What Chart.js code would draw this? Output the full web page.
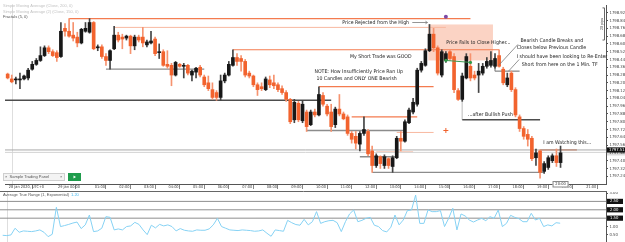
<!DOCTYPE html>
<html>
<head>
<meta charset="utf-8">
<title>Gold 29 Jan</title>
<script src="https://cdn.jsdelivr.net/npm/chart.js@4.4.1/dist/chart.umd.min.js"></script>
<style>
  html, body { margin: 0; padding: 0; background: #fff; }
  body { width: 625px; height: 242px; position: relative; overflow: hidden; }
  #main { position: absolute; left: 0; top: 0; }
  #atr { position: absolute; left: 0; top: 192px; }
</style>
</head>
<body>
<canvas id="main" width="625" height="192"></canvas>
<canvas id="atr" width="625" height="50"></canvas>
<script>
// candles, one per bar
const opens = [1798.29,1798.24,1798.23,1798.23,1798.24,1798.25,1798.34,1798.39,1798.43,1798.48,
  1798.56,1798.52,1798.51,1798.47,1798.76,1798.73,1798.69,1798.67,1798.61,1798.73,
  1798.72,1798.82,1798.56,1798.57,1798.47,1798.43,1798.55,1798.69,1798.67,1798.66,
  1798.68,1798.58,1798.67,1798.67,1798.59,1798.61,1798.65,1798.51,1798.52,1798.39,
  1798.38,1798.28,1798.39,1798.37,1798.38,1798.28,1798.31,1798.36,1798.26,1798.20,
  1798.13,1798.10,1798.05,1798.22,1798.28,1798.38,1798.46,1798.45,1798.42,1798.30,
  1798.27,1798.18,1798.16,1798.13,1798.23,1798.20,1798.18,1798.14,1798.10,1798.03,
  1797.82,1797.99,1797.81,1797.90,1797.77,1797.90,1797.87,1798.07,1797.96,1797.90,
  1797.77,1797.93,1797.88,1797.85,1797.68,1797.65,1797.57,1797.68,1797.70,1797.50,
  1797.35,1797.44,1797.35,1797.42,1797.34,1797.43,1797.63,1797.60,1797.79,1797.90,
  1797.98,1798.33,1798.38,1798.53,1798.70,1798.56,1798.28,1798.43,1798.52,1798.47,
  1798.12,1798.03,1798.25,1798.37,1798.28,1798.28,1798.30,1798.37,1798.38,1798.37,
  1798.48,1798.34,1798.18,1798.30,1798.13,1797.85,1797.73,1797.67,1797.63,1797.43,
  1797.50,1797.29,1797.33,1797.40,1797.45,1797.38];
const highs = [1798.30,1798.28,1798.26,1798.30,1798.28,1798.35,1798.42,1798.45,1798.57,1798.58,
  1798.58,1798.54,1798.53,1798.82,1798.81,1798.86,1798.82,1798.72,1798.76,1798.82,
  1798.86,1798.83,1798.59,1798.59,1798.50,1798.54,1798.78,1798.72,1798.70,1798.69,
  1798.69,1798.69,1798.69,1798.77,1798.64,1798.73,1798.67,1798.60,1798.54,1798.53,
  1798.40,1798.42,1798.40,1798.40,1798.39,1798.33,1798.36,1798.38,1798.28,1798.27,
  1798.20,1798.12,1798.28,1798.30,1798.42,1798.54,1798.50,1798.48,1798.44,1798.32,
  1798.28,1798.20,1798.20,1798.26,1798.27,1798.28,1798.20,1798.17,1798.12,1798.04,
  1798.03,1798.01,1798.02,1797.92,1797.92,1797.93,1798.16,1798.10,1797.98,1797.98,
  1797.95,1798.08,1797.90,1797.87,1797.70,1797.70,1797.70,1797.85,1797.72,1797.55,
  1797.47,1797.45,1797.46,1797.43,1797.45,1797.65,1797.70,1797.82,1797.94,1798.04,
  1798.35,1798.42,1798.55,1798.80,1798.76,1798.58,1798.54,1798.52,1798.54,1798.50,
  1798.14,1798.30,1798.50,1798.50,1798.32,1798.40,1798.40,1798.46,1798.52,1798.50,
  1798.54,1798.36,1798.30,1798.32,1798.15,1797.87,1797.75,1797.72,1797.65,1797.52,
  1797.51,1797.39,1797.45,1797.47,1797.52,1797.55];
const lows = [1798.24,1798.20,1798.19,1798.14,1798.23,1798.23,1798.33,1798.38,1798.42,1798.47,
  1798.50,1798.47,1798.42,1798.46,1798.68,1798.67,1798.63,1798.57,1798.60,1798.72,
  1798.71,1798.54,1798.53,1798.45,1798.38,1798.34,1798.54,1798.62,1798.55,1798.64,
  1798.50,1798.54,1798.62,1798.57,1798.57,1798.60,1798.48,1798.45,1798.37,1798.35,
  1798.17,1798.27,1798.36,1798.25,1798.28,1798.22,1798.25,1798.26,1798.16,1798.12,
  1798.03,1798.02,1798.02,1798.20,1798.27,1798.37,1798.38,1798.32,1798.26,1798.25,
  1798.16,1798.07,1798.12,1798.12,1798.15,1798.14,1798.11,1798.08,1798.01,1797.78,
  1797.79,1797.80,1797.79,1797.70,1797.76,1797.85,1797.86,1797.96,1797.86,1797.70,
  1797.74,1797.86,1797.82,1797.66,1797.58,1797.52,1797.50,1797.66,1797.45,1797.28,
  1797.33,1797.32,1797.32,1797.32,1797.28,1797.42,1797.50,1797.59,1797.78,1797.88,
  1797.96,1798.31,1798.37,1798.52,1798.52,1798.28,1798.26,1798.41,1798.43,1798.10,
  1798.02,1798.01,1798.24,1798.22,1798.23,1798.10,1798.28,1798.35,1798.36,1798.35,
  1798.36,1798.18,1798.16,1798.11,1797.85,1797.70,1797.62,1797.55,1797.40,1797.35,
  1797.22,1797.27,1797.31,1797.38,1797.34,1797.33];
const closes = [1798.25,1798.21,1798.24,1798.24,1798.27,1798.33,1798.39,1798.43,1798.48,1798.56,
  1798.52,1798.48,1798.46,1798.73,1798.73,1798.68,1798.66,1798.61,1798.75,1798.76,
  1798.82,1798.55,1798.57,1798.47,1798.43,1798.53,1798.69,1798.64,1798.65,1798.68,
  1798.58,1798.67,1798.64,1798.61,1798.62,1798.63,1798.50,1798.52,1798.38,1798.37,
  1798.28,1798.41,1798.37,1798.38,1798.30,1798.32,1798.35,1798.28,1798.18,1798.14,
  1798.05,1798.05,1798.22,1798.28,1798.39,1798.46,1798.42,1798.42,1798.28,1798.27,
  1798.18,1798.13,1798.14,1798.24,1798.18,1798.17,1798.13,1798.10,1798.03,1797.80,
  1798.00,1797.82,1797.98,1797.75,1797.90,1797.87,1798.08,1797.98,1797.88,1797.75,
  1797.93,1797.88,1797.83,1797.68,1797.62,1797.58,1797.68,1797.72,1797.47,1797.35,
  1797.45,1797.37,1797.44,1797.35,1797.43,1797.63,1797.60,1797.80,1797.92,1798.00,
  1798.33,1798.40,1798.53,1798.70,1798.56,1798.30,1798.52,1798.50,1798.45,1798.13,
  1798.03,1798.27,1798.47,1798.25,1798.25,1798.32,1798.37,1798.42,1798.43,1798.45,
  1798.37,1798.20,1798.25,1798.13,1797.87,1797.73,1797.65,1797.62,1797.42,1797.48,
  1797.28,1797.37,1797.43,1797.45,1797.38,1797.48];

// Average True Range (1, Exponential), one value per candle
const atrValues = [0.48,0.46,0.50,0.90,0.66,0.74,0.72,0.70,0.74,0.80,
  0.66,0.40,0.54,2.15,1.00,1.06,1.13,1.21,1.27,0.88,
  1.10,1.69,0.70,0.74,0.90,1.59,1.55,0.80,0.86,0.80,
  1.00,1.04,1.25,1.13,0.80,0.52,1.08,0.92,1.13,1.04,
  1.10,1.00,0.74,0.88,0.78,0.74,0.72,0.80,0.78,0.78,
  0.86,1.10,1.49,1.00,0.90,0.80,0.78,0.76,0.80,0.78,
  0.76,0.72,0.74,0.80,0.60,0.42,0.80,0.76,0.72,1.37,
  1.23,1.12,1.08,1.43,1.10,1.29,1.89,1.19,1.29,1.35,
  1.37,1.23,0.70,1.29,1.75,1.99,1.29,1.37,1.49,1.55,
  1.08,1.00,0.76,0.68,0.96,1.69,1.10,1.39,1.95,1.99,
  2.88,1.19,1.19,1.99,1.89,1.89,1.95,1.00,1.49,2.09,
  0.80,1.75,1.63,1.39,1.27,1.39,1.49,1.35,1.59,1.49,
  1.99,1.00,1.19,1.67,1.55,1.47,1.29,1.29,1.79,1.39,
  1.49,1.00,1.10,1.04,1.23,1.20];

const priceTicks = [1798.92,1798.84,1798.76,1798.68,1798.60,1798.52,1798.44,1798.36,1798.28,1798.20,1798.12,
  1798.04,1797.96,1797.88,1797.80,1797.72,1797.64,1797.56,1797.48,1797.40,1797.32,1797.24];
const atrTicks = [0.5, 1.0, 1.5, 2.0, 2.5, 3.0];
const atrLevels = [1.5, 2.0, 2.5];

const xTickIdx = [0, 12, 21, 27, 33, 39, 45, 51, 57, 63, 69, 75, 81, 87, 93, 99, 105, 111, 117, 123, 129, 135, 141];
const xTickText = ['28 Jan 2020, UTC+0', '29 Jan 00:00', '01:00', '02:00', '03:00', '04:00', '05:00', '06:00',
  '07:00', '08:00', '09:00', '10:00', '11:00', '12:00', '13:00', '14:00', '15:00', '16:00', '17:00',
  '18:00', '19:00', '20:00', '21:00'];
const lastBarTime = '20:00';
const lastPrice = 1797.51;
const bidPrice = 1797.48;

// drawn levels: [from bar, to bar, price, kind]
const levels = [
  [-1, 147, 1797.485, 'faint'],
  [-1, 147, 1797.51, 'grey'],
  [15, 113, 1798.86, 'res'],
  [26, 107, 1798.77, 'resLight'],
  [55, 120, 1798.54, 'res'],
  [76, 104, 1798.16, 'res'],
  [84, 100, 1797.85, 'res'],
  [95, 104, 1797.69, 'resLight'],
  [90, 99, 1797.49, 'resLight'],
  [130, 139, 1797.51, 'watch'],
  [-1, 79, 1798.02, 'supDark'],
  [24, 48, 1798.34, 'sup'],
  [73, 97, 1797.71, 'sup'],
  [86, 95, 1797.44, 'sup'],
  [89, 131, 1797.28, 'sup'],
  [119, 125, 1798.32, 'sup'],
  [111, 130, 1797.82, 'supDark']
];
// vertical segments: [bar, price from, price to, kind]
const verticals = [
  [119, 1798.47, 1798.32, 'sup'],
  [111, 1798.13, 1797.82, 'faint']
];
const trendPts = [[107, 1798.43], [113, 1798.41]];
const topMark = [107, 1798.88];
const crossMark = [107, 1797.71];
const zone = [102.7, 118.5, 1798.80, 1798.43];
const sepIdx = 1;

const notes = [
  ['Price Rejected from the High', 81.7, 1798.82],
  ['My Short Trade was GOOD', 83.6, 1798.47],
  ['NOTE: How Insufficiently Price Ran Up', 74.9, 1798.31],
  ['10 Candles and ONLY ONE Bearish', 75.4, 1798.245],
  ['Price Fails to Close Higher...', 107.1, 1798.61],
  ['Bearish Candle Breaks and', 125.2, 1798.63],
  ['Closes below Previous Candle', 124.3, 1798.56],
  ['I should have been looking to Re-Enter', 124.3, 1798.47],
  ['Short from here on the 1 Min. TF', 125.5, 1798.39],
  ['...after Bullish Push', 112.4, 1797.87],
  ['I am Watching this...', 130.8, 1797.59]
];
// thin pointer lines: [bar, price, bar, price]
const pointers = [
  [124.6, 1798.595, 119.9, 1798.38],
  [124.9, 1798.44, 122.3, 1798.32]
];
const arrow = [98.8, 102.5, 1798.825];
const pipsRange = [145.6, 1798.97, 1798.64];

const BULL = '#171717', BEAR = '#f2632e';
const BULL_WICK = '#444', BEAR_WICK = '#f6936f';
const X_MIN = -0.65, X_MAX = 146.1;
const P_MIN = 1797.16, P_MAX = 1799.00;
const NARROW = '"Liberation Sans Narrow", "DejaVu Sans Condensed", "Liberation Sans", sans-serif';
const SANS = '"Liberation Sans", Arial, sans-serif';

const levelStyle = {
  res: { color: '#f47b4f', width: 1.2 },
  resLight: { color: '#f8b8a0', width: 1 },
  watch: { color: '#cf6a40', width: 1.2 },
  supDark: { color: '#4d4d4d', width: 1.5 },
  sup: { color: '#8c8c8c', width: 1.3 },
  grey: { color: '#a9a9a9', width: 1 },
  faint: { color: '#d3d3d3', width: 1 }
};

Chart.defaults.font.family = SANS;

const up = i => closes[i] >= opens[i];

const datasets = [];
levels.forEach(([a, b, p, kind]) => {
  datasets.push({
    type: 'line',
    data: [{ x: a, y: p }, { x: b, y: p }],
    borderColor: levelStyle[kind].color,
    borderWidth: levelStyle[kind].width,
    pointRadius: 0,
    order: 3
  });
});
verticals.forEach(([i, p1, p2, kind]) => {
  datasets.push({
    type: 'line',
    data: [{ x: i, y: p1 }, { x: i, y: p2 }],
    borderColor: levelStyle[kind].color,
    borderWidth: levelStyle[kind].width,
    pointRadius: 0,
    order: 3
  });
});
datasets.push({
  type: 'bar',
  data: opens.map((o, i) => ({ x: i, y: [lows[i], highs[i]] })),
  backgroundColor: ctx => up(ctx.dataIndex) ? BULL_WICK : BEAR_WICK,
  barThickness: 1,
  grouped: false,
  order: 2
});
datasets.push({
  type: 'bar',
  data: opens.map((o, i) => ({ x: i, y: [o, closes[i]] })),
  backgroundColor: ctx => up(ctx.dataIndex) ? BULL : BEAR,
  barThickness: 3,
  minBarLength: 1,
  grouped: false,
  order: 1
});
datasets.push({
  type: 'line',
  data: trendPts.map(([i, p]) => ({ x: i, y: p })),
  borderColor: '#3d9a52',
  borderWidth: 1,
  pointRadius: 1.6,
  pointBackgroundColor: '#2f9a48',
  pointBorderWidth: 0,
  order: 0
});
datasets.push({
  type: 'line',
  data: [{ x: topMark[0], y: topMark[1] }],
  pointRadius: 2,
  pointBackgroundColor: '#7d4aa6',
  pointBorderWidth: 0,
  order: 0
});
datasets.push({
  type: 'line',
  data: [{ x: crossMark[0], y: crossMark[1] }],
  pointStyle: 'cross',
  pointRadius: 2.5,
  pointBorderColor: '#f0602a',
  pointBorderWidth: 1,
  order: 0
});

const decor = {
  id: 'decor',
  beforeDatasetsDraw(chart) {
    const { ctx, chartArea: a, scales: { x, y } } = chart;
    ctx.save();
    const x0 = x.getPixelForValue(zone[0]), x1 = x.getPixelForValue(zone[1]);
    const y0 = y.getPixelForValue(zone[2]), y1 = y.getPixelForValue(zone[3]);
    ctx.fillStyle = '#fbd3c4';
    ctx.fillRect(x0, y0, x1 - x0, y1 - y0);
    const sx = Math.round(x.getPixelForValue(sepIdx)) + 0.5;
    ctx.strokeStyle = '#dedede';
    ctx.lineWidth = 1;
    ctx.beginPath(); ctx.moveTo(sx, a.top); ctx.lineTo(sx, a.bottom); ctx.stroke();
    ctx.restore();
  },
  afterDraw(chart) {
    const { ctx, chartArea: a, scales: { x, y } } = chart;
    ctx.save();

    // indicator legend
    ctx.textBaseline = 'middle';
    ctx.textAlign = 'left';
    ctx.font = '4px ' + SANS;
    ctx.fillStyle = '#c2c2c2';
    ctx.fillText('Simple Moving Average (Close, 200, 0)', 3, 5.5);
    ctx.fillText('Simple Moving Average (2) (Close, 150, 0)', 3, 11.5);
    ctx.fillStyle = '#555';
    ctx.fillText('Fractals (5, 0)', 3, 17);

    // notes
    ctx.font = '5.2px ' + NARROW;
    ctx.fillStyle = '#222';
    notes.forEach(([t, i, p]) => ctx.fillText(t, x.getPixelForValue(i), y.getPixelForValue(p)));

    ctx.strokeStyle = '#7a7a7a';
    ctx.lineWidth = 0.8;
    pointers.forEach(([i1, p1, i2, p2]) => {
      ctx.beginPath();
      ctx.moveTo(x.getPixelForValue(i1), y.getPixelForValue(p1));
      ctx.lineTo(x.getPixelForValue(i2), y.getPixelForValue(p2));
      ctx.stroke();
    });
    // arrow to the rejected high
    const ax0 = x.getPixelForValue(arrow[0]), ax1 = x.getPixelForValue(arrow[1]);
    const ay = Math.round(y.getPixelForValue(arrow[2])) + 0.5;
    ctx.beginPath(); ctx.moveTo(ax0, ay); ctx.lineTo(ax1, ay); ctx.stroke();
    ctx.beginPath(); ctx.moveTo(ax1 - 2, ay - 1.3); ctx.lineTo(ax1, ay); ctx.lineTo(ax1 - 2, ay + 1.3); ctx.stroke();

    // 20 pips bracket
    const bx = Math.round(x.getPixelForValue(pipsRange[0])) + 0.5;
    const by0 = y.getPixelForValue(pipsRange[1]), by1 = y.getPixelForValue(pipsRange[2]);
    ctx.strokeStyle = '#666';
    ctx.lineWidth = 1;
    ctx.beginPath();
    ctx.moveTo(bx - 2, by0); ctx.lineTo(bx, by0); ctx.lineTo(bx, by1); ctx.lineTo(bx - 2, by1);
    ctx.stroke();
    ctx.save();
    ctx.translate(bx - 3, (by0 + by1) / 2);
    ctx.rotate(-Math.PI / 2);
    ctx.textAlign = 'center';
    ctx.font = '3.8px ' + SANS;
    ctx.fillStyle = '#444';
    ctx.fillText('20 pips', 0, 0);
    ctx.restore();

    // price labels on the axis
    const priceBox = (p, bg, fg) => {
      const py = y.getPixelForValue(p);
      ctx.fillStyle = bg;
      ctx.fillRect(a.right + 1, py - 2.6, 18, 5.2);
      ctx.fillStyle = fg;
      ctx.font = '4.2px ' + NARROW;
      ctx.textAlign = 'left';
      ctx.fillText(p.toFixed(2), a.right + 3, py);
    };
    priceBox(bidPrice, '#dcdcdc', '#333');
    priceBox(lastPrice, '#111', '#fff');

    // trading panel
    ctx.fillStyle = '#f3f3f3';
    ctx.fillRect(3, 173, 62, 8);
    ctx.strokeStyle = '#cfcfcf';
    ctx.strokeRect(3.5, 173.5, 61, 7);
    ctx.fillStyle = '#555';
    ctx.font = '4px ' + SANS;
    ctx.textAlign = 'left';
    ctx.fillText('\u00d7  Sample Trading Panel', 5, 177.3);
    ctx.fillText('\u00d7', 60, 177.3);
    ctx.fillStyle = '#1f9c4c';
    ctx.fillRect(68, 173, 13, 8);
    ctx.fillStyle = '#fff';
    ctx.beginPath(); ctx.moveTo(73.5, 175.5); ctx.lineTo(76, 177); ctx.lineTo(73.5, 178.5); ctx.fill();

    // bottom line of the time row
    ctx.strokeStyle = '#666';
    ctx.beginPath(); ctx.moveTo(0, 191.5); ctx.lineTo(a.right + 1, 191.5); ctx.stroke();

    // boxed time of last bar
    const tx = x.getPixelForValue(xTickIdx[21]);
    ctx.fillStyle = '#fff';
    ctx.fillRect(tx - 8, 181.5, 16, 6);
    ctx.strokeStyle = '#888';
    ctx.strokeRect(tx - 7.5, 181.5, 15, 5.5);
    ctx.fillStyle = '#333';
    ctx.font = '4px ' + NARROW;
    ctx.textAlign = 'center';
    ctx.fillText(lastBarTime, tx, 184.4);
    ctx.restore();
  }
};

new Chart(document.getElementById('main').getContext('2d'), {
  type: 'bar',
  data: { datasets },
  options: {
    responsive: false,
    animation: false,
    events: [],
    layout: { padding: 0 },
    plugins: { legend: { display: false }, tooltip: { enabled: false } },
    scales: {
      x: {
        type: 'linear',
        min: X_MIN,
        max: X_MAX,
        offset: false,
        afterBuildTicks: s => { s.ticks = xTickIdx.map(v => ({ value: v })); },
        afterFit: s => { s.height = 8; s.paddingLeft = 0; s.paddingRight = 0; },
        grid: { drawOnChartArea: false, tickLength: 5, color: '#888' },
        border: { color: '#555' },
        ticks: {
          autoSkip: false, maxRotation: 0, minRotation: 0, align: 'start', padding: -4.5,
          color: '#444', font: { size: 3.9, family: NARROW },
          callback: (v, i) => ' ' + xTickText[i]
        }
      },
      y: {
        type: 'linear',
        position: 'right',
        min: P_MIN,
        max: P_MAX,
        afterBuildTicks: s => { s.ticks = priceTicks.map(v => ({ value: v })); },
        afterFit: s => { s.width = 19; s.paddingTop = 0; s.paddingBottom = 0; },
        grid: { drawOnChartArea: false, tickLength: 2, color: '#555' },
        border: { color: '#555' },
        ticks: { padding: 1.5, color: '#444', font: { size: 4.2, family: NARROW }, callback: v => v.toFixed(2) }
      }
    }
  },
  plugins: [decor]
});

// lower panel: ATR
const atrDecor = {
  id: 'atrDecor',
  beforeDatasetsDraw(chart) {
    const { ctx, chartArea: a, scales: { x } } = chart;
    const sx = Math.round(x.getPixelForValue(sepIdx)) + 0.5;
    ctx.save();
    ctx.strokeStyle = '#dedede';
    ctx.beginPath(); ctx.moveTo(sx, a.top); ctx.lineTo(sx, a.bottom); ctx.stroke();
    ctx.restore();
  },
  afterDraw(chart) {
    const { ctx, chartArea: a, scales: { y } } = chart;
    ctx.save();
    ctx.textBaseline = 'middle';
    ctx.textAlign = 'left';
    ctx.font = '4px ' + SANS;
    ctx.fillStyle = '#555';
    const label = 'Average True Range (1, Exponential)';
    ctx.fillText(label, 3, 2.8);
    ctx.fillStyle = '#3ab4ee';
    ctx.fillText(atrValues[atrValues.length - 1].toFixed(2), 3 + ctx.measureText(label).width + 2, 2.8);
    atrLevels.forEach(v => {
      const py = y.getPixelForValue(v);
      ctx.fillStyle = '#111';
      ctx.fillRect(a.right + 1, py - 2.6, 16, 5.2);
      ctx.fillStyle = '#fff';
      ctx.font = '4.2px ' + NARROW;
      ctx.fillText(v.toFixed(2), a.right + 4, py);
    });
    ctx.restore();
  }
};

const atrSets = atrLevels.map(v => ({
  data: [{ x: X_MIN, y: v }, { x: X_MAX, y: v }],
  borderColor: '#8e8e8e',
  borderWidth: 1,
  pointRadius: 0,
  order: 2
}));
atrSets.push({
  data: atrValues.map((v, i) => ({ x: i, y: v })),
  borderColor: '#86d2f4',
  borderWidth: 1,
  pointRadius: 0,
  tension: 0,
  order: 1
});

new Chart(document.getElementById('atr').getContext('2d'), {
  type: 'line',
  data: { datasets: atrSets },
  options: {
    responsive: false,
    animation: false,
    events: [],
    layout: { padding: 0 },
    plugins: { legend: { display: false }, tooltip: { enabled: false } },
    scales: {
      x: { type: 'linear', min: X_MIN, max: X_MAX, display: false },
      y: {
        type: 'linear',
        position: 'right',
        min: 0.08,
        max: 3.06,
        afterBuildTicks: s => { s.ticks = atrTicks.map(v => ({ value: v })); },
        afterFit: s => { s.width = 19; s.paddingTop = 0; s.paddingBottom = 0; },
        grid: { drawOnChartArea: false, tickLength: 2, color: '#555' },
        border: { color: '#555' },
        ticks: { padding: 1.5, color: '#444', font: { size: 4.2, family: NARROW }, callback: v => v.toFixed(2) }
      }
    }
  },
  plugins: [atrDecor]
});
</script>
</body>
</html>
